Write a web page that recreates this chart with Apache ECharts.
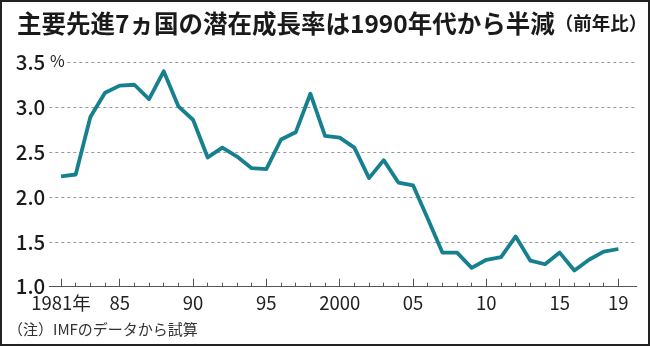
<!DOCTYPE html>
<html><head><meta charset="utf-8">
<script src="https://cdn.jsdelivr.net/npm/echarts@6/dist/echarts.min.js"></script>
<style>
html,body{margin:0;padding:0;background:#fff;}
#c{width:650px;height:346px;box-sizing:border-box;border:2px solid #222;}
</style></head>
<body><div id="c"></div>
<script>
var years = [1981,1982,1983,1984,1985,1986,1987,1988,1989,1990,1991,1992,1993,1994,1995,1996,1997,1998,1999,2000,2001,2002,2003,2004,2005,2006,2007,2008,2009,2010,2011,2012,2013,2014,2015,2016,2017,2018,2019];
var growth = [2.23,2.25,2.89,3.16,3.24,3.25,3.09,3.40,3.01,2.86,2.44,2.55,2.45,2.32,2.31,2.64,2.72,3.15,2.68,2.66,2.55,2.21,2.41,2.16,2.13,1.76,1.38,1.38,1.21,1.30,1.33,1.56,1.29,1.25,1.38,1.18,1.30,1.39,1.42];
var majorYears = [1981,1985,1990,1995,2000,2005,2010,2015,2019];
var majorLabels = {1981:'1981年',1985:'85',1990:'90',1995:'95',2000:'2000',2005:'05',2010:'10',2015:'15',2019:'19'};
var yTicks = [1.0,1.5,2.0,2.5,3.0,3.5];

var FONT = '"Noto Sans CJK JP", "Noto Sans", sans-serif';
var chart = echarts.init(document.getElementById('c'), null, {renderer:'canvas'});
var data = years.map(function(y,i){return [y, growth[i]];});
chart.setOption({
  animation:false,
  textStyle:{fontFamily:FONT},
  title:{
    left:10, top:4,
    text:'{a|主要先進7ヵ国の潜在成長率は1990年代から半減}{b|（前年比）}',
    textStyle:{rich:{
      a:{fontFamily:FONT,fontSize:24.5,fontWeight:'bold',color:'#1a1a1a'},
      b:{fontFamily:FONT,fontSize:18.5,color:'#1a1a1a'}
    }}
  },
  grid:{left:47.3,right:11.3,top:60.3,bottom:57.3,containLabel:false},
  xAxis:[{
    type:'value', min:1980.2, max:2020.25,
    axisLine:{show:true,lineStyle:{color:'#555',width:1}},
    axisTick:{show:true,inside:true,length:4,customValues:years,lineStyle:{color:'#555',width:1}},
    axisLabel:{show:true,customValues:majorYears,formatter:function(v){return majorLabels[Math.round(v)]||'';},
      fontFamily:FONT,fontSize:18.5,color:'#222',margin:7},
    splitLine:{show:false}
  },{
    type:'value', min:1980.2, max:2020.25, position:'bottom',
    axisLine:{show:false},
    axisTick:{show:true,inside:true,length:8,customValues:majorYears,lineStyle:{color:'#555',width:1}},
    axisLabel:{show:false},
    splitLine:{show:false}
  }],
  yAxis:{
    type:'value', min:1, max:3.5, interval:0.5,
    axisLine:{show:false}, axisTick:{show:false},
    axisLabel:{formatter:function(v){return v.toFixed(1);},fontFamily:FONT,fontSize:20.5,fontWeight:500,color:'#1a1a1a',margin:4},
    splitLine:{show:true,lineStyle:{color:'#999',type:[3,3],width:1}}
  },
  graphic:[
    {type:'rect',left:47,top:55,shape:{width:18,height:12},style:{fill:'#fff'},z:50},
    {type:'text',left:48,top:51,style:{text:'%',font:'16px '+FONT,fill:'#222'},z:51},
    {type:'text',left:6,top:320,style:{text:'（注）IMFのデータから試算',font:'15px '+FONT,fill:'#333'}}
  ],
  series:[{
    type:'line', data:data, xAxisIndex:0, showSymbol:false, symbol:'none',
    lineStyle:{color:'#17808f',width:3.8,join:'round'}, z:5
  }]
});
</script></body></html>
